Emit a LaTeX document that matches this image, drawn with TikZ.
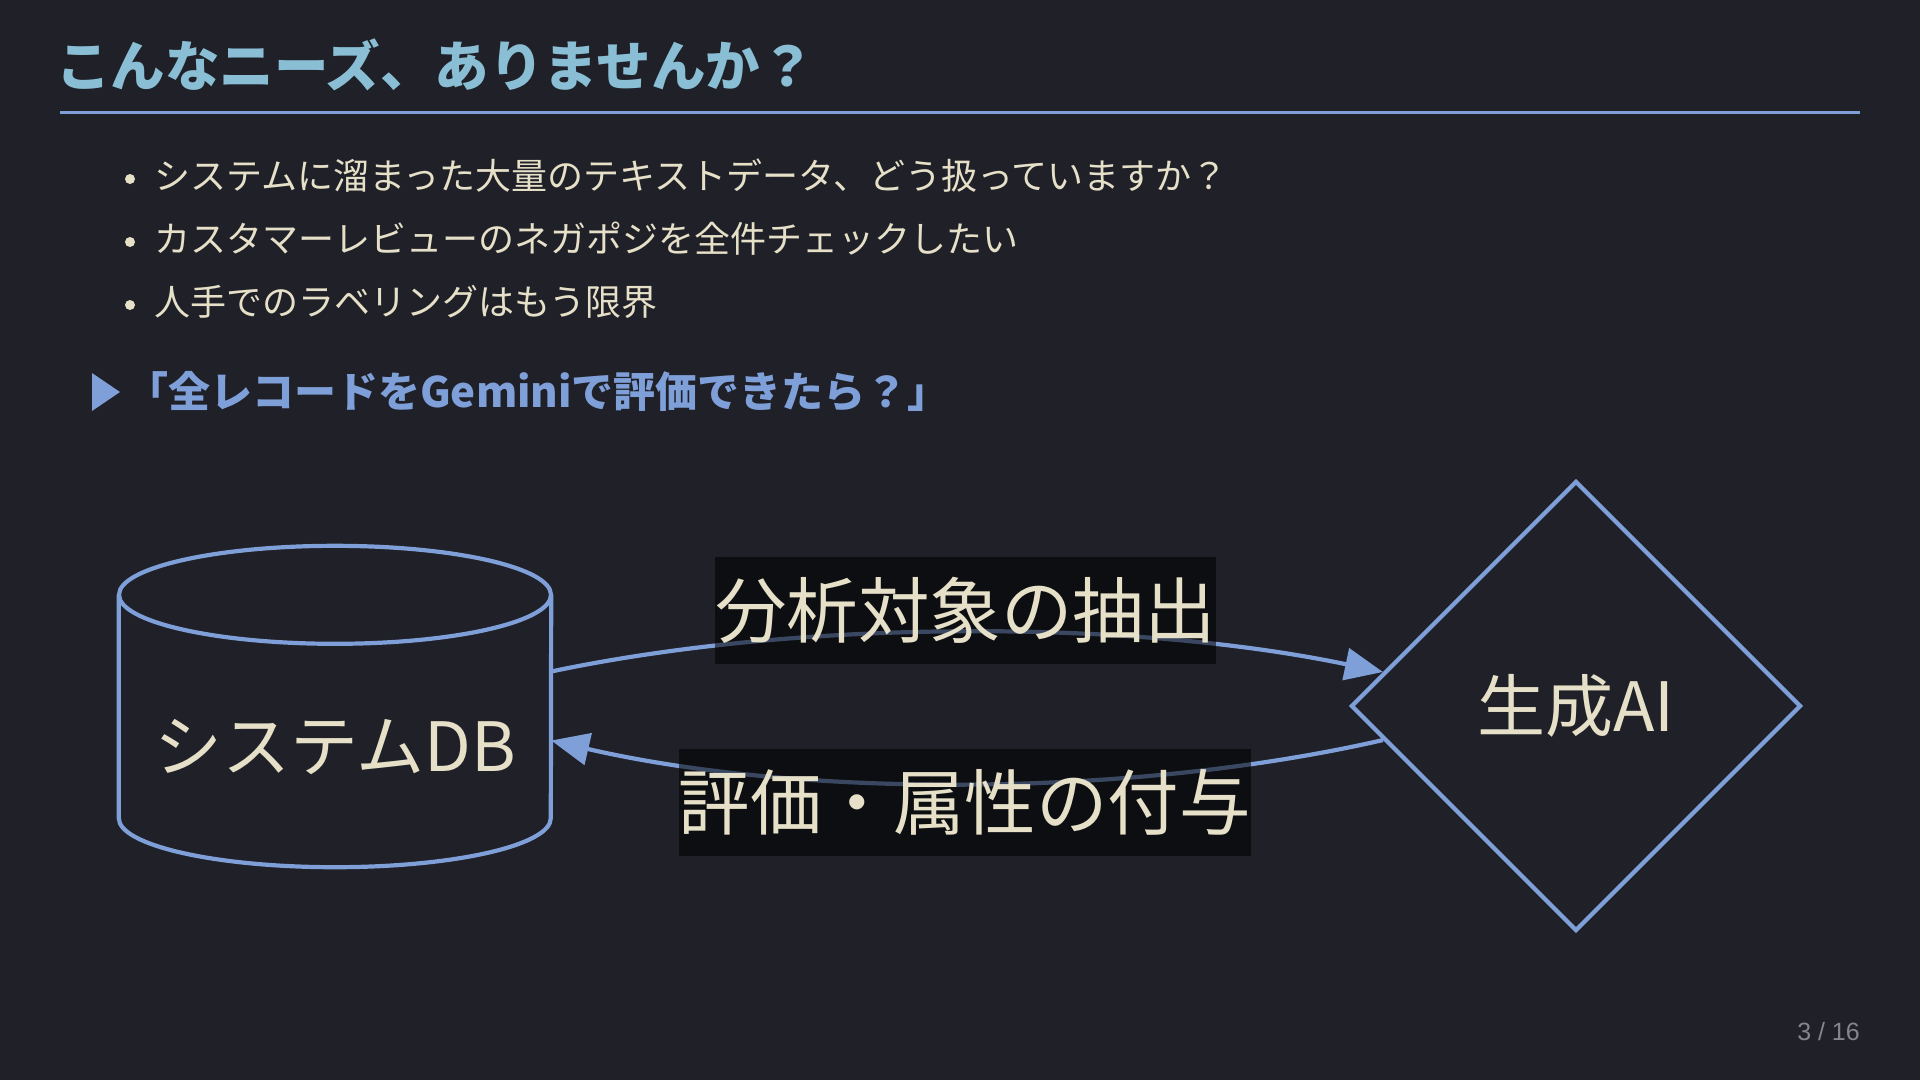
\documentclass[tikz,border=0pt]{standalone}
\usepackage{fontspec}
\usetikzlibrary{arrows.meta,shapes.geometric}
\newfontfamily\jp{Noto Sans CJK JP}
\newfontfamily\pnum{Liberation Sans}
\definecolor{bg}{HTML}{1F2028}
\definecolor{ttl}{HTML}{89BED4}
\definecolor{acc}{HTML}{7F9FD9}
\definecolor{cream}{HTML}{E6E0C8}
\definecolor{pg}{HTML}{85858A}
\begin{document}
\begin{tikzpicture}[x=1pt,y=-1pt,
  titlestyle/.style={anchor=base west, inner sep=0, text=ttl, font=\jp\bfseries\fontsize{54.5pt}{60pt}\selectfont},
  bullettext/.style={anchor=base west, inner sep=0, text=cream, font=\jp\fontsize{36pt}{40pt}\selectfont},
  bulletdot/.style={circle, fill=cream, inner sep=0, minimum size=10pt},
  hilite/.style={anchor=base west, inner sep=0, text=acc, font=\jp\bfseries\fontsize{42pt}{48pt}\selectfont},
  shapeline/.style={draw=acc, line width=4.2pt},
  bigtext/.style={text=cream, font=\jp\fontsize{68pt}{72pt}\selectfont},
  edgelabel/.style={fill=black, fill opacity=0.55, text opacity=1, text=cream, inner xsep=0, inner ysep=0, minimum height=107pt, font=\jp\fontsize{71.5pt}{76pt}\selectfont},
  flow/.style={draw=acc, line width=4.2pt, -{Triangle[length=38pt,width=32pt]}},
]
\fill[bg] (0,0) rectangle (1920,1080);
\useasboundingbox (0,0) rectangle (1920,1080);

% title
\node[titlestyle] (title) at (56,86.5) {こんなニーズ、ありませんか？};
\coordinate (ruleL) at (60,112);
\coordinate (ruleR) at (1860,112);
\draw[acc, line width=3pt] (ruleL) -- (ruleR);

% bullets
\node[bulletdot] (d1) at (130,179) {};
\node[bulletdot] (d2) at (130,242) {};
\node[bulletdot] (d3) at (130,305) {};
\node[bullettext] (b1) at (154,189) {システムに溜まった大量のテキストデータ、どう扱っていますか？};
\node[bullettext] (b2) at (154,252) {カスタマーレビューのネガポジを全件チェックしたい};
\node[bullettext] (b3) at (154,315) {人手でのラベリングはもう限界};

% highlight
\fill[acc] (92,373) -- (120,392) -- (92,411) -- cycle;
\node[hilite] (hl) at (126,407) {「全レコードをGeminiで評価できたら？」};

% cylinder (system DB)
\node[draw=none, minimum width=432pt, minimum height=321pt, inner sep=0] (db) at (335,706.5) {};
\draw[shapeline] ([yshift=-49pt]db.north) ellipse [x radius=216pt, y radius=49pt];
\draw[shapeline] ([yshift=-49pt]db.north west) -- ([yshift=49pt]db.south west)
  arc[start angle=180, end angle=360, x radius=216pt, y radius=49pt]
  -- ([yshift=-49pt]db.north east);
\node[bigtext] (dbtext) at (335,747) {システムDB};

% diamond (generative AI)
\node[diamond, aspect=1, shapeline, minimum width=450pt, minimum height=450pt, inner sep=0, bigtext] (ai) at (1576,706) {生成AI};

% connectors
\draw[flow] ([yshift=35pt]db.east) .. controls (800,619) and (1130,619) .. (ai.170);
\draw[flow] (ai.190) .. controls (1130,798) and (800,798) .. ([yshift=-34pt]db.east);

% edge labels
\node[edgelabel] (l1) at (965.5,610.5) {分析対象の抽出};
\node[edgelabel] (l2) at (964.5,802) {評価・属性の付与};

% page number
\node[anchor=base east, inner sep=0, text=pg, font=\pnum\fontsize{25pt}{30pt}\selectfont] (pnum) at (1860,1040) {3 / 16};
\end{tikzpicture}
\end{document}
